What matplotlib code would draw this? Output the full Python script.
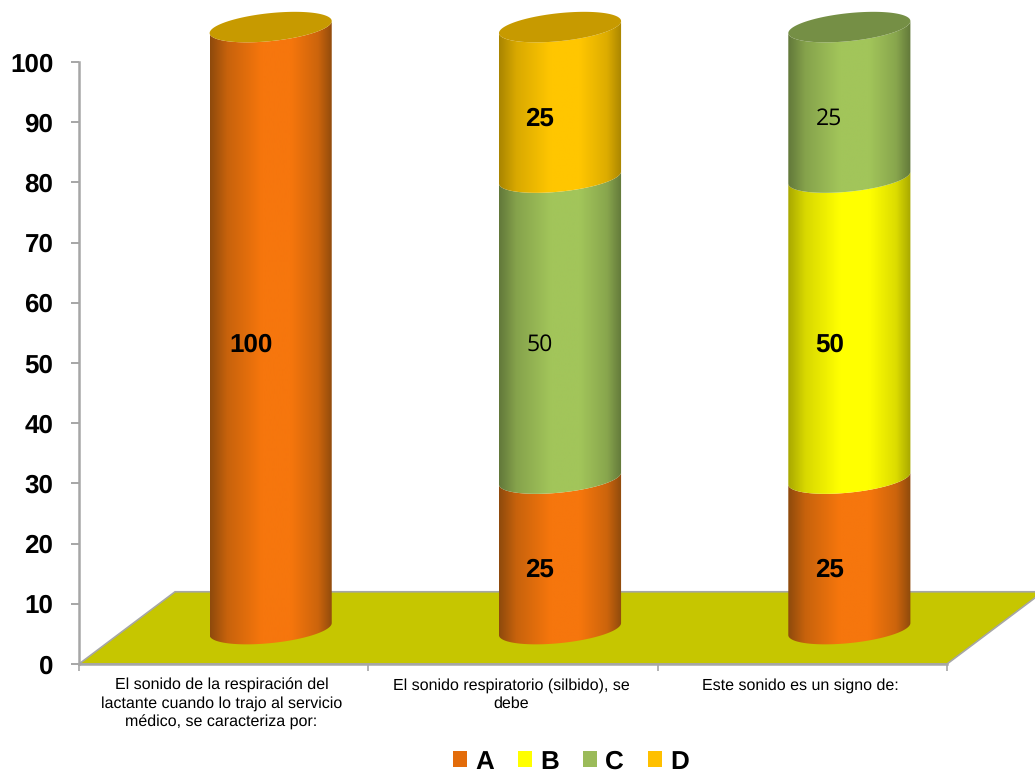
import matplotlib
matplotlib.use('Agg')
import matplotlib.pyplot as plt
import numpy as np
from matplotlib.colors import LinearSegmentedColormap
from matplotlib.patches import Patch, Polygon
from matplotlib.path import Path
from matplotlib.transforms import ScaledTranslation

plt.rcParams['font.family'] = ['Liberation Sans', 'DejaVu Sans']
plt.rcParams['text.hinting'] = 'no_hinting'
plt.rcParams['text.hinting_factor'] = 1

categories = ['El sonido de la respiración del\nlactante cuando lo trajo al servicio\nmédico, se caracteriza por:',
              'El sonido respiratorio (silbido), se\ndebe',
              'Este sonido es un signo de:']
series_names = ['A', 'B', 'C', 'D']
A = [100, 25, 25]
B = [0, 0, 50]
C = [0, 50, 25]
D = [0, 25, 0]
series = [A, B, C, D]
y_ticks = list(range(0, 101, 10))

colors = ['#F6760D', '#FFFF00', '#A2C55A', '#FFC600']
dark_colors = ['#8E4A0C', '#A8A800', '#62783A', '#A98500']
legend_colors = ['#E36C0A', '#FFFF00', '#9BBB59', '#FFC000']
cap_colors = ['#C79A00', '#C79A00', '#758F45']
# the C figures are in a lighter, regular face
label_bold = [True, True, False, True]

DX = 0.1625    # shift of the cylinders into the depth of the floor
DY = 5.8
RX = 0.211     # cylinder radius, ellipse height and tilt
RY = 2.33
TILT = 1.0


def ellipse_pts(x, y, t):
    return np.column_stack([x + RX*np.cos(t), y + RY*np.sin(t) + TILT*np.cos(t)])


def shade(c, d, f):
    # mix of the light and dark tone of a series
    c = np.array(matplotlib.colors.to_rgb(c))
    d = np.array(matplotlib.colors.to_rgb(d))
    return tuple(c*(1-f) + d*f)


def draw_segment(ax, x, y0, y1, i):
    c, d = colors[i], dark_colors[i]
    cmap = LinearSegmentedColormap.from_list('cyl', [(0, d), (0.14, shade(c, d, 0.45)), (0.42, c),
                                                      (0.66, c), (0.88, shade(c, d, 0.4)), (1, d)])
    t = np.linspace(np.pi, 2*np.pi, 60)
    pts = np.vstack([ellipse_pts(x, y0, t), ellipse_pts(x, y1, t)[::-1]])
    path = Path(np.vstack([pts, pts[0]]), closed=True)
    grad = np.linspace(0, 1, 256).reshape(1, -1)
    im = ax.imshow(grad, cmap=cmap, aspect='auto', zorder=3, interpolation='bilinear',
                   extent=[x-RX, x+RX, y0-RY*1.2, y1+RY*1.2])
    # the cylinders stand above the axes box, so only the outline clips them
    im.set_clip_box(fig.bbox)
    im.set_clip_path(path, ax.transData)


fig = plt.figure(figsize=(10.35, 7.73), dpi=100)
ax = fig.add_axes([79/1035, 109/773, 868/1035, 602/773])

# floor of the 3D chart
ax.add_patch(Polygon([(0, 0), (3, 0), (3 + 0.332, 12), (0.332, 12)], closed=True, facecolor='#C6C600',
                     edgecolor='#A6A6A6', linewidth=1.2, zorder=1, clip_on=False))

for k in range(3):
    x = k + 0.5 + DX
    bottom = 0
    for i in range(4):
        v = series[i][k]
        if v == 0:
            continue
        draw_segment(ax, x, bottom + DY, bottom + v + DY, i)
        ax.annotate(str(v), (x, bottom + v/2 + DY), xytext=(-14.5, -12), textcoords='offset points',
                    ha='center', va='center', zorder=5, annotation_clip=False,
                    fontsize=19 if label_bold[i] else 16.5,
                    fontweight='bold' if label_bold[i] else 'normal',
                    family='Liberation Sans' if label_bold[i] else 'Open Sans')
        bottom += v
    t = np.linspace(0, 2*np.pi, 120)
    ax.add_patch(Polygon(ellipse_pts(x, bottom + DY, t), closed=True, facecolor=cap_colors[k],
                         edgecolor='none', zorder=4, clip_on=False))

ax.set_xlim(0, 3)
ax.set_ylim(0, 100)
ax.patch.set_visible(False)
for s in ['top', 'right']:
    ax.spines[s].set_visible(False)
for s in ['left', 'bottom']:
    ax.spines[s].set_color('#A6A6A6')
    ax.spines[s].set_linewidth(1.8)
    ax.spines[s].set_zorder(2)

ax.set_yticks(y_ticks)
ax.set_yticklabels([str(v) for v in y_ticks], fontsize=19, fontweight='bold')
ax.tick_params(axis='y', length=5.5, width=1.4, color='#A6A6A6', pad=13)
ax.set_xticks(range(4))
ax.set_xticklabels([])
ax.tick_params(axis='x', which='major', length=5, width=1.2, color='#A6A6A6')
ax.set_xticks([0.5, 1.5, 2.5], minor=True)
ax.set_xticklabels(categories, minor=True, fontsize=11.3, linespacing=1.28)
ax.tick_params(axis='x', which='minor', length=0, pad=10)
for lab in ax.get_xticklabels(minor=True):
    lab.set_transform(lab.get_transform() + ScaledTranslation(-1.5/72, 0, fig.dpi_scale_trans))

handles = [Patch(facecolor=c, edgecolor='none') for c in legend_colors]
fig.legend(handles, series_names, loc='center', bbox_to_anchor=(571/1035, 1 - 762/773), ncol=4, frameon=False,
           prop={'size': 19, 'weight': 'bold'}, handlelength=0.55, handleheight=0.55, handletextpad=0.3,
           columnspacing=0.9, borderpad=0, borderaxespad=0)

fig.savefig('out.png', dpi=100)
